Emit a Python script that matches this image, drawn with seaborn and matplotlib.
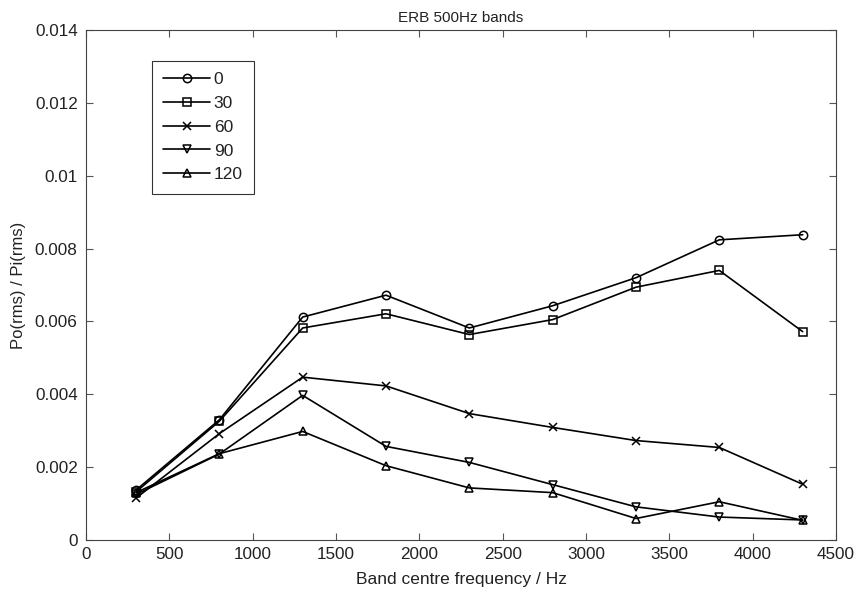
import matplotlib
matplotlib.use("Agg")
import matplotlib.pyplot as plt
import seaborn as sns
import pandas as pd

freqs = [300, 800, 1300, 1800, 2300, 2800, 3300, 3800, 4300]
angles = ["0", "30", "60", "90", "120"]
s0 = [0.00137, 0.00330, 0.00612, 0.00672, 0.00582, 0.00643, 0.00720, 0.00824, 0.00838]
s30 = [0.00132, 0.00326, 0.00582, 0.00621, 0.00564, 0.00605, 0.00694, 0.00740, 0.00572]
s60 = [0.00115, 0.00292, 0.00447, 0.00423, 0.00347, 0.00309, 0.00273, 0.00254, 0.00153]
s90 = [0.00125, 0.00236, 0.00397, 0.00257, 0.00213, 0.00152, 0.00091, 0.00063, 0.00055]
s120 = [0.00130, 0.00237, 0.00298, 0.00204, 0.00143, 0.00130, 0.00059, 0.00105, 0.00054]
series = [s0, s30, s60, s90, s120]
markers = ["o", "s", "x", "v", "^"]

sns.set_style("ticks")
plt.rcParams["font.family"] = ["Liberation Sans", "DejaVu Sans"]

fig = plt.figure(figsize=(8.64, 5.94), dpi=100)
ax = fig.add_axes([86/864, 1-540/594, (836-86)/864, (540-30)/594])

for a, vals, m in zip(angles, series, markers):
    df = pd.DataFrame({"freq": freqs, "val": vals})
    sns.lineplot(data=df, x="freq", y="val", color="black", marker=m,
                 markerfacecolor="none", markeredgecolor="black",
                 markeredgewidth=1.1, markersize=6, linewidth=1.2,
                 label=a, legend=False, ax=ax)

ax.set_xlim(0, 4500)
ax.set_ylim(0, 0.014)
ax.set_xticks(range(0, 4501, 500))
ax.set_yticks([0, 0.002, 0.004, 0.006, 0.008, 0.01, 0.012, 0.014])
ax.set_yticklabels(["0", "0.002", "0.004", "0.006", "0.008", "0.01", "0.012", "0.014"])
ax.tick_params(direction="in", top=True, right=True, labelsize=12.3, length=5,
               color="#555555", labelcolor="#222222")
ax.tick_params(axis="y", pad=6)
ax.tick_params(axis="x", pad=5)
for sp in ax.spines.values():
    sp.set_visible(True)
    sp.set_color("#444444")
    sp.set_linewidth(0.8)
ax.set_xlabel("Band centre frequency / Hz", fontsize=12.5, labelpad=7, color="#222222")
ax.set_ylabel("Po(rms) / Pi(rms)", fontsize=12, labelpad=6, color="#222222")
ax.set_title("ERB 500Hz bands", fontsize=11, pad=6, color="#222222")

handles = ax.get_lines()[:5]
leg = ax.legend(handles, angles, loc="upper left", bbox_to_anchor=(0.088, 0.94),
                fontsize=12.5, frameon=True, fancybox=False, edgecolor="black",
                handlelength=2.7, handletextpad=0.2, labelspacing=0.5,
                borderpad=0.65, borderaxespad=0)
leg.get_frame().set_linewidth(0.8)
for t in leg.get_texts():
    t.set_color("#222222")

fig.savefig("out.png", dpi=100)
